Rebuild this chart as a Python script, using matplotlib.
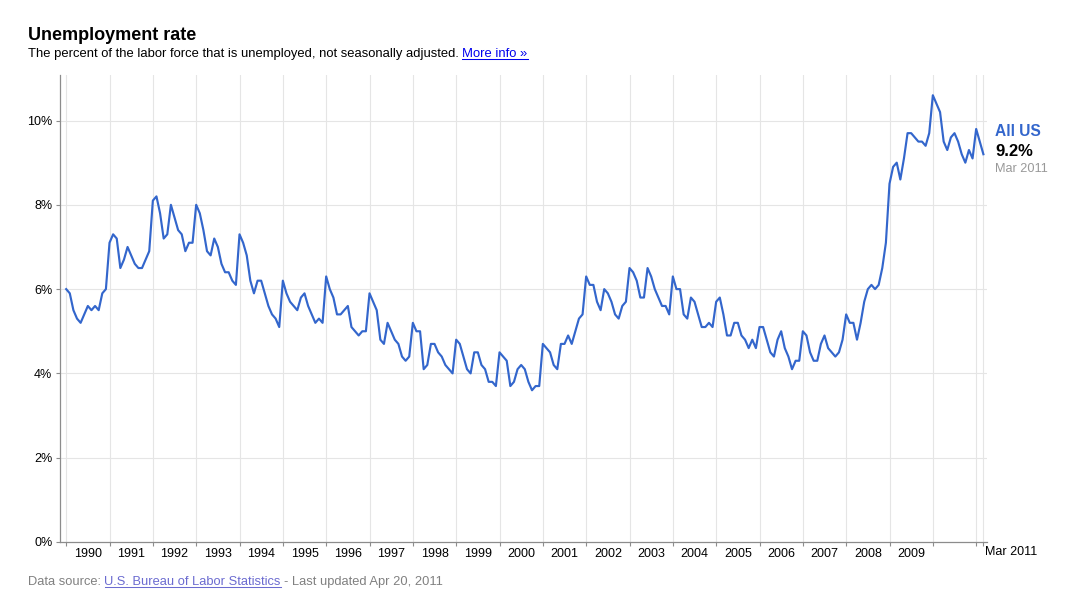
import matplotlib
matplotlib.use('Agg')
import matplotlib.pyplot as plt
from matplotlib.lines import Line2D
import numpy as np

# ---- data: US unemployment rate, not seasonally adjusted, monthly (%) ----
rate_1990 = [6.0, 5.9, 5.5, 5.3, 5.2, 5.4, 5.6, 5.5, 5.6, 5.5, 5.9, 6.0]
rate_1991 = [7.1, 7.3, 7.2, 6.5, 6.7, 7.0, 6.8, 6.6, 6.5, 6.5, 6.7, 6.9]
rate_1992 = [8.1, 8.2, 7.8, 7.2, 7.3, 8.0, 7.7, 7.4, 7.3, 6.9, 7.1, 7.1]
rate_1993 = [8.0, 7.8, 7.4, 6.9, 6.8, 7.2, 7.0, 6.6, 6.4, 6.4, 6.2, 6.1]
rate_1994 = [7.3, 7.1, 6.8, 6.2, 5.9, 6.2, 6.2, 5.9, 5.6, 5.4, 5.3, 5.1]
rate_1995 = [6.2, 5.9, 5.7, 5.6, 5.5, 5.8, 5.9, 5.6, 5.4, 5.2, 5.3, 5.2]
rate_1996 = [6.3, 6.0, 5.8, 5.4, 5.4, 5.5, 5.6, 5.1, 5.0, 4.9, 5.0, 5.0]
rate_1997 = [5.9, 5.7, 5.5, 4.8, 4.7, 5.2, 5.0, 4.8, 4.7, 4.4, 4.3, 4.4]
rate_1998 = [5.2, 5.0, 5.0, 4.1, 4.2, 4.7, 4.7, 4.5, 4.4, 4.2, 4.1, 4.0]
rate_1999 = [4.8, 4.7, 4.4, 4.1, 4.0, 4.5, 4.5, 4.2, 4.1, 3.8, 3.8, 3.7]
rate_2000 = [4.5, 4.4, 4.3, 3.7, 3.8, 4.1, 4.2, 4.1, 3.8, 3.6, 3.7, 3.7]
rate_2001 = [4.7, 4.6, 4.5, 4.2, 4.1, 4.7, 4.7, 4.9, 4.7, 5.0, 5.3, 5.4]
rate_2002 = [6.3, 6.1, 6.1, 5.7, 5.5, 6.0, 5.9, 5.7, 5.4, 5.3, 5.6, 5.7]
rate_2003 = [6.5, 6.4, 6.2, 5.8, 5.8, 6.5, 6.3, 6.0, 5.8, 5.6, 5.6, 5.4]
rate_2004 = [6.3, 6.0, 6.0, 5.4, 5.3, 5.8, 5.7, 5.4, 5.1, 5.1, 5.2, 5.1]
rate_2005 = [5.7, 5.8, 5.4, 4.9, 4.9, 5.2, 5.2, 4.9, 4.8, 4.6, 4.8, 4.6]
rate_2006 = [5.1, 5.1, 4.8, 4.5, 4.4, 4.8, 5.0, 4.6, 4.4, 4.1, 4.3, 4.3]
rate_2007 = [5.0, 4.9, 4.5, 4.3, 4.3, 4.7, 4.9, 4.6, 4.5, 4.4, 4.5, 4.8]
rate_2008 = [5.4, 5.2, 5.2, 4.8, 5.2, 5.7, 6.0, 6.1, 6.0, 6.1, 6.5, 7.1]
rate_2009 = [8.5, 8.9, 9.0, 8.6, 9.1, 9.7, 9.7, 9.6, 9.5, 9.5, 9.4, 9.7]
rate_2010 = [10.6, 10.4, 10.2, 9.5, 9.3, 9.6, 9.7, 9.5, 9.2, 9.0, 9.3, 9.1]
rate_2011 = [9.8, 9.5, 9.2]

years = list(range(1990, 2012))
rate = (rate_1990 + rate_1991 + rate_1992 + rate_1993 + rate_1994 + rate_1995 +
        rate_1996 + rate_1997 + rate_1998 + rate_1999 + rate_2000 + rate_2001 +
        rate_2002 + rate_2003 + rate_2004 + rate_2005 + rate_2006 + rate_2007 +
        rate_2008 + rate_2009 + rate_2010 + rate_2011)
year_labels = [str(y) for y in range(1990, 2010)]
last_label = 'Mar 2011'
y_ticks = [0, 2, 4, 6, 8, 10]

plt.rcParams['font.family'] = ['Liberation Sans', 'DejaVu Sans']

W, H = 1074, 603
fig = plt.figure(figsize=(W / 100, H / 100), dpi=100)
fig.patch.set_facecolor('white')

def fx(x):
    return x / W

def fy(y):
    return 1 - y / H

ax_l, ax_r, ax_t, ax_b = 59.5, 987, 75, 542
ax = fig.add_axes([fx(ax_l), fy(ax_b), (ax_r - ax_l) / W, (ax_b - ax_t) / H])

x = np.arange(len(rate))
ax.set_xlim(-1.85, 255)
ax.set_ylim(0, 11.08)

grid_c = '#e5e5e5'
axis_c = '#8c8c8c'
# gridlines
jan_idx = [12 * i for i in range(len(years))]
vgrid = jan_idx + [len(rate) - 1]
for v in vgrid:
    ax.axvline(v, color=grid_c, lw=0.8, zorder=0)
for t in y_ticks[1:]:
    ax.axhline(t, color=grid_c, lw=0.8, zorder=0)

ax.plot(x, rate, color='#3366cc', lw=1.55, solid_joinstyle='round', zorder=3)

for s in ['top', 'right']:
    ax.spines[s].set_visible(False)
for s in ['left', 'bottom']:
    ax.spines[s].set_color(axis_c)
    ax.spines[s].set_linewidth(0.9)

ax.set_yticks(y_ticks)
ax.set_yticklabels([f'{t}%' for t in y_ticks])
ax.tick_params(axis='y', length=3.2, width=0.8, color=axis_c, pad=2,
               labelsize=9, labelcolor='#000000')

ax.set_xticks(vgrid)
ax.set_xticklabels([])
ax.set_xticks([12 * i + 6 for i in range(len(year_labels))], minor=True)
ax.set_xticklabels(year_labels, minor=True)
ax.tick_params(axis='x', which='major', length=3.2, width=0.8, color=axis_c)
ax.tick_params(axis='x', which='minor', length=0, pad=4.6, labelsize=9,
               labelcolor='#000000')
ax.text(len(rate) - 1 + 0.4, -4.3 / 467, last_label, transform=ax.get_xaxis_transform(),
        ha='left', va='top', fontsize=9, color='#000000')

# right-hand annotation
fig.text(fx(995), fy(136), 'All US', ha='left', va='baseline', fontsize=11.2,
         fontweight='bold', color='#3366cc')
fig.text(fx(995), fy(156), f'{rate[-1]}%', ha='left', va='baseline', fontsize=12,
         fontweight='bold', color='#000000')
fig.text(fx(995), fy(172), last_label, ha='left', va='baseline', fontsize=9.2,
         color='#999999')

# titles
fig.text(fx(28), fy(40), 'Unemployment rate', ha='left', va='baseline',
         fontsize=13, fontweight='bold', color='#000000')
sub = fig.text(fx(28), fy(57), 'The percent of the labor force that is unemployed, not seasonally adjusted.',
               ha='left', va='baseline', fontsize=9.4, color='#000000')

fig.canvas.draw()
renderer = fig.canvas.get_renderer()
SPACE = 3.5

def underline(t, color):
    bb = t.get_window_extent(renderer)
    yb = t.get_position()[1] * H - 1.6
    fig.add_artist(Line2D([bb.x0 / W, bb.x1 / W], [yb / H, yb / H], color=color,
                          lw=0.75, transform=fig.transFigure))

bb = sub.get_window_extent(renderer)
more = fig.text((bb.x1 + SPACE) / W, fy(57), 'More info »', ha='left', va='baseline',
                fontsize=9.4, color='#0000ee')
fig.canvas.draw()
underline(more, '#0000ee')

# footer
foot_c = '#808080'
FS = 9.3
f1 = fig.text(fx(28), fy(585), 'Data source:', ha='left', va='baseline', fontsize=FS,
              color=foot_c)
fig.canvas.draw()
b1 = f1.get_window_extent(renderer)
f2 = fig.text((b1.x1 + SPACE) / W, fy(585), 'U.S. Bureau of Labor Statistics', ha='left',
              va='baseline', fontsize=FS, color='#6b6bd0')
fig.canvas.draw()
b2 = f2.get_window_extent(renderer)
underline(f2, '#6b6bd0')
fig.text((b2.x1 + SPACE) / W, fy(585), '- Last updated Apr 20, 2011', ha='left',
         va='baseline', fontsize=FS, color=foot_c)

fig.savefig('out.png', dpi=100, facecolor='white')
